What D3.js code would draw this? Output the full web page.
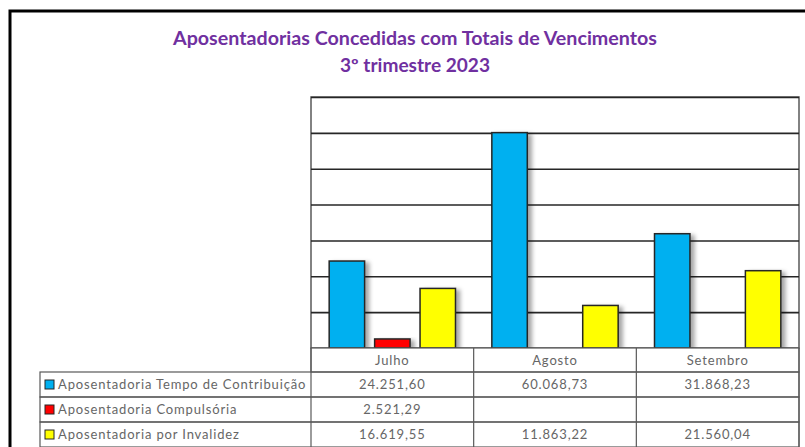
<!DOCTYPE html>
<html>
<head>
<meta charset="utf-8">
<script src="https://cdn.jsdelivr.net/npm/d3@7"></script>
<style>
  body { margin: 0; background: #fff; }
  svg { display: block; }
</style>
</head>
<body>
<div id="chart"></div>
<script>
// Chart data
const months = ["Julho", "Agosto", "Setembro"];
const seriesNames = [
  "Aposentadoria Tempo de Contribuição",
  "Aposentadoria Compulsória",
  "Aposentadoria por Invalidez"
];
const seriesColors = ["#00B0F0", "#FF0000", "#FFFF00"];
const tempoContribuicao = [24251.60, 60068.73, 31868.23];
const compulsoria = [2521.29, null, null];
const invalidez = [16619.55, 11863.22, 21560.04];
const titleLines = ["Aposentadorias Concedidas com Totais de Vencimentos", "3º trimestre 2023"];
const yMax = 70000;
const yTicks = [10000, 20000, 30000, 40000, 50000, 60000, 70000];

const series = [tempoContribuicao, compulsoria, invalidez];

const ptBR = d3.formatLocale({ decimal: ",", thousands: ".", grouping: [3], currency: ["R$ ", ""] });
const fmt = ptBR.format(",.2f");

const W = 805, H = 447;
const svg = d3.select("#chart").append("svg").attr("width", W).attr("height", H);

// drop shadow for bars
const defs = svg.append("defs");
const shadow = defs.append("filter").attr("id", "shadow")
  .attr("x", "-20%").attr("y", "-20%").attr("width", "160%").attr("height", "140%");
shadow.append("feDropShadow")
  .attr("dx", 4).attr("dy", 2).attr("stdDeviation", 2)
  .attr("flood-color", "#000").attr("flood-opacity", 0.35);

// outer frame
svg.append("rect")
  .attr("x", 10).attr("y", 11).attr("width", W + 20).attr("height", H + 20)
  .attr("fill", "none").attr("stroke", "#000").attr("stroke-width", 3);

// title (Calibri-like width forced with textLength)
const titleWidths = [484, 150];
svg.append("g").selectAll("text").data(titleLines).join("text")
  .attr("x", 415).attr("y", (d, i) => 45 + i * 27)
  .attr("text-anchor", "middle")
  .attr("font-family", "Lato, 'Open Sans', sans-serif")
  .attr("font-weight", "bold").attr("font-size", 18)
  .attr("fill", "#7030A0")
  .attr("textLength", (d, i) => titleWidths[i])
  .attr("lengthAdjust", "spacingAndGlyphs")
  .text(d => d);

// plot area
const plot = { left: 311, right: 799, top: 97, bottom: 348 };

const x = d3.scaleBand().domain(months).range([plot.left, plot.right]);
const xInner = d3.scaleBand().domain(d3.range(series.length))
  .range([0, x.bandwidth()]).paddingInner(0.22).paddingOuter(0.4);
const y = d3.scaleLinear().domain([0, yMax]).range([plot.bottom, plot.top]);

// plot border
svg.append("rect")
  .attr("x", plot.left).attr("y", plot.top)
  .attr("width", plot.right - plot.left).attr("height", plot.bottom - plot.top)
  .attr("fill", "#fff").attr("stroke", "#595959").attr("stroke-width", 1.5);

// gridlines
svg.append("g")
  .attr("transform", `translate(${plot.left},0)`)
  .call(d3.axisLeft(y).tickValues(yTicks).tickSize(-(plot.right - plot.left)).tickFormat(""))
  .call(g => g.select(".domain").remove())
  .call(g => g.selectAll("line").attr("stroke", "#262626").attr("stroke-width", 1.6));

// bars
const barData = [];
months.forEach((m, mi) => {
  series.forEach((s, si) => {
    if (s[mi] != null) barData.push({ month: m, si, value: s[mi] });
  });
});

svg.append("g").selectAll("rect").data(barData).join("rect")
  .attr("x", d => x(d.month) + xInner(d.si))
  .attr("y", d => y(d.value))
  .attr("width", xInner.bandwidth())
  .attr("height", d => y(0) - y(d.value))
  .attr("fill", d => seriesColors[d.si])
  .attr("stroke", "#262626").attr("stroke-width", 1.5)
  .attr("filter", "url(#shadow)");

// data table
const rowTop = [348, 372, 397, 422];
const rowH = 25;
const tableLeft = 40;
const gridColor = "#595959";
const table = svg.append("g").attr("font-family", "Lato, 'Open Sans', sans-serif")
  .attr("font-size", 13).attr("fill", "#666").attr("letter-spacing", 0.85);

// header row
table.append("rect")
  .attr("x", plot.left).attr("y", rowTop[0])
  .attr("width", plot.right - plot.left).attr("height", rowTop[1] - rowTop[0])
  .attr("fill", "#fff").attr("stroke", gridColor).attr("stroke-width", 1.2);
table.selectAll(".hdr").data(months).join("text")
  .attr("class", "hdr")
  .attr("x", d => x(d) + x.bandwidth() / 2)
  .attr("y", rowTop[0] + 17)
  .attr("text-anchor", "middle")
  .text(d => d);

// body rows
series.forEach((s, si) => {
  const top = rowTop[si + 1];
  table.append("rect")
    .attr("x", tableLeft).attr("y", top)
    .attr("width", plot.right - tableLeft).attr("height", rowH)
    .attr("fill", "none").attr("stroke", gridColor).attr("stroke-width", 1.2);
  table.append("rect")
    .attr("x", tableLeft + 5).attr("y", top + 8)
    .attr("width", 9).attr("height", 9)
    .attr("fill", seriesColors[si]).attr("stroke", "#262626").attr("stroke-width", 1);
  table.append("text")
    .attr("x", tableLeft + 18).attr("y", top + 17)
    .text(seriesNames[si]);
  table.selectAll(null).data(months).join("text")
    .attr("x", d => x(d) + x.bandwidth() / 2)
    .attr("y", top + 17)
    .attr("text-anchor", "middle")
    .text((d, mi) => s[mi] == null ? "" : fmt(s[mi]));
});

// column separators
const colLines = [plot.left, ...months.map(m => x(m) + x.bandwidth())];
table.selectAll(".col").data(colLines).join("line")
  .attr("class", "col")
  .attr("x1", d => d).attr("x2", d => d)
  .attr("y1", rowTop[0]).attr("y2", rowTop[3] + rowH)
  .attr("stroke", gridColor).attr("stroke-width", 1.2);
</script>
</body>
</html>
